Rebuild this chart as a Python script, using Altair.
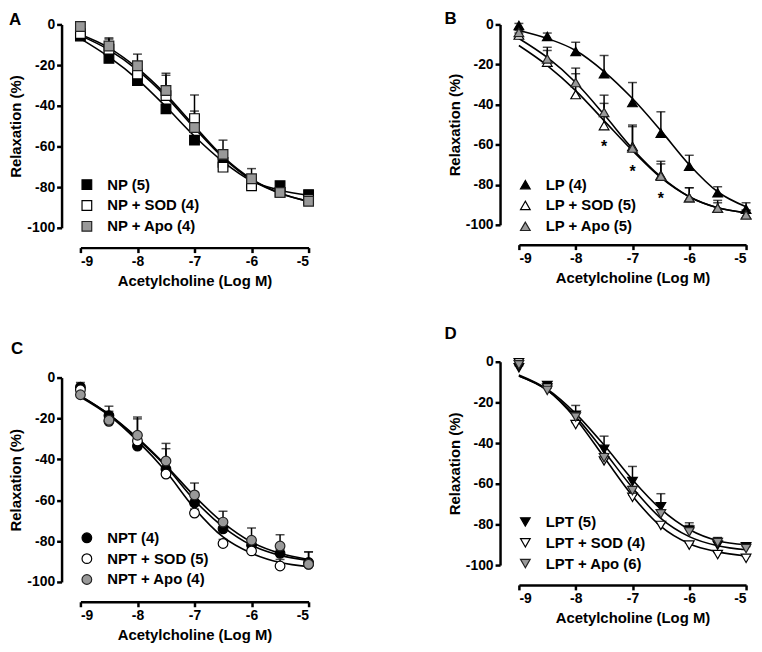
import altair as alt
import pandas as pd

FONT = "Liberation Sans"

# x positions (log M acetylcholine)
log_ach = [-9, -8.5, -8, -7.5, -7, -6.5, -6, -5.5, -5]

# ---------------- Panel A ----------------
a_names = ["NP (5)", "NP + SOD (4)", "NP + Apo (4)"]
a_mean_np = [-5.7, -16.7, -27.6, -41.5, -56.9, -67.8, -78.0, -79.3, -83.7]
a_sem_np = [1, 1.5, 1.5, 1.5, 1.5, 1.5, 1.5, 1.5, 2.0]
a_mean_sod = [-4.5, -12.2, -24.4, -35.0, -46.3, -70.2, -79.3, -82.6, -86.2]
a_sem_sod = [1, 5.0, 3.0, 10.0, 3.7, 2.0, 2.0, 1.0, 1.0]
a_mean_apo = [-1.0, -10.6, -20.3, -32.5, -50.7, -63.9, -75.9, -82.6, -87.0]
a_sem_apo = [1, 4.0, 5.7, 8.5, 16.0, 7.0, 5.0, 1.0, 1.0]
a_fit_np = [-7, -16, -27, -40.5, -55, -67.5, -77, -81.5, -84]
a_fit_sod = [-5.5, -12.5, -22.5, -35.5, -51, -65.5, -76.5, -83, -87]
a_fit_apo = [-5, -11.5, -21.5, -34.5, -50, -65, -76, -83, -87]

# ---------------- Panel B ----------------
b_names = ["LP (4)", "LP + SOD (5)", "LP + Apo (5)"]
b_mean_lp = [-0.5, -6.0, -13.5, -24.6, -39.0, -54.3, -70.8, -84.0, -92.2]
b_sem_lp = [1, 1.7, 4.6, 9.1, 10.0, 10.7, 5.5, 3.0, 3.2]
b_mean_sod = [-5.3, -18.8, -35.0, -50.5, -60.9, -75.2, -86.5, -91.7, -95.0]
b_sem_sod = [1, 5.8, 10.4, 11.1, 10.7, 5.6, 5.0, 3.9, 2.3]
b_mean_apo = [-4.0, -17.2, -29.0, -43.9, -61.7, -75.7, -86.5, -91.7, -95.0]
b_sem_apo = [1, 5.8, 7.2, 8.6, 10.7, 7.4, 5.0, 2.7, 2.3]
b_fit_lp = [-3, -7, -13, -23.5, -37, -53, -70, -83.5, -91]
b_fit_sod = [-10.5, -20.5, -33, -48, -63, -76.5, -86, -91.5, -94]
b_fit_apo = [-7, -16.5, -29, -45, -62, -76, -86, -91.5, -94]
b_star_x = [-7.5, -7.0, -6.5]
b_star_y = [-59, -71.5, -85]

# ---------------- Panel C ----------------
c_names = ["NPT (4)", "NPT + SOD (5)", "NPT + Apo (4)"]
c_mean_npt = [-4.7, -18.6, -33.5, -44.8, -61.3, -74.0, -82.0, -86.0, -90.5]
c_sem_npt = [2.3, 4.6, 13.3, 10.0, 3.0, 3.0, 3.0, 2.0, 5.2]
c_mean_sod = [-6.0, -21.4, -31.0, -47.2, -66.3, -81.2, -84.8, -92.2, -91.4]
c_sem_sod = [1, 2, 2, 2, 2, 2, 2, 3.2, 1]
c_mean_apo = [-8.4, -20.9, -28.2, -40.8, -57.4, -70.7, -79.6, -82.4, -91.3]
c_sem_apo = [1, 4.4, 8.9, 8.6, 5.8, 5.3, 6.0, 5.5, 6.0]
c_fit_npt = [-9, -18, -30, -43.5, -60, -73, -82, -87, -89.5]
c_fit_sod = [-9.5, -18.5, -31, -46, -64, -78, -86, -90.5, -92.5]
c_fit_apo = [-9, -18, -29.5, -43, -58, -71, -80.5, -86, -89]

# ---------------- Panel D ----------------
d_names = ["LPT (5)", "LPT + SOD (4)", "LPT + Apo (6)"]
d_mean_lpt = [-3.0, -11.7, -26.3, -43.1, -58.9, -71.3, -82.9, -90.2, -91.0]
d_sem_lpt = [1, 1, 4.8, 6.5, 7.4, 6.4, 3.7, 3.7, 1]
d_mean_sod = [-0.5, -13.0, -30.9, -48.8, -66.7, -80.5, -90.2, -94.8, -96.7]
d_sem_sod = [1, 1, 1, 1, 1, 1, 1, 1, 1]
d_mean_apo = [-1.5, -14.1, -27.2, -47.2, -63.4, -74.8, -83.7, -88.9, -91.9]
d_sem_apo = [1, 1, 2, 2, 2, 2, 3.2, 2.4, 1]
d_fit_lpt = [-6.5, -13.5, -25.5, -41, -58, -72.5, -82.5, -88, -90]
d_fit_sod = [-7, -14, -28, -47, -66, -81, -89.5, -93.5, -95.5]
d_fit_apo = [-7, -14, -27, -44, -62, -77, -86, -90.5, -92.5]

x_ticks = [-9, -8, -7, -6, -5]
y_ticks = [0, -20, -40, -60, -80, -100]
fills = ["black", "white", "#999999"]
strokes = ["black", "black", "#222222"]


def xpos():
    return alt.X("x:Q", scale=alt.Scale(domain=[-9, -5], nice=False, zero=False),
                 axis=alt.Axis(values=x_ticks, title="Acetylcholine (Log M)", offset=20,
                               labelExpr="'' + datum.value"))


def ypos(field):
    return alt.Y(f"{field}:Q", scale=alt.Scale(domain=[-100, 0], nice=False, zero=False),
                 axis=alt.Axis(values=y_ticks, title="Relaxation (%)", offset=19,
                               labelExpr="'' + datum.value"))


def panel(letter, ldx, ldy, names, shape, means, sems, fits, width, height, stars=None):
    rows = []
    for name, m, s in zip(names, means, sems):
        for x, y, e in zip(log_ach, m, s):
            rows.append({"x": x, "y": y, "top": y + e, "series": name})
    pts = pd.DataFrame(rows)
    crv = pd.DataFrame([{"x": x, "y": y, "series": name}
                        for name, c in zip(names, fits) for x, y in zip(log_ach, c)])

    lines = alt.Chart(crv).mark_line(color="black", strokeWidth=1.6, interpolate="monotone").encode(
        x=xpos(), y=ypos("y"), detail="series:N")
    bars = alt.Chart(pts).mark_rule(color="black", strokeWidth=1.5).encode(
        x=xpos(), y=ypos("y"), y2="top:Q")
    caps = alt.Chart(pts).mark_tick(color="black", thickness=1.5, size=9, orient="horizontal").encode(
        x=xpos(), y=ypos("top"))
    leg = alt.Legend(title=None, orient="none", legendX=-1, legendY=154,
                     labelFont=FONT, labelFontSize=15, labelFontWeight="bold", labelColor="black",
                     labelOffset=13, symbolSize=95, symbolStrokeWidth=1.2,
                     rowPadding=5, padding=0, labelLimit=300)
    dots = alt.Chart(pts).mark_point(filled=True, size=95, strokeWidth=1.2, opacity=1).encode(
        x=xpos(), y=ypos("y"),
        shape=alt.Shape("series:N", scale=alt.Scale(domain=names, range=[shape] * 3), legend=leg),
        fill=alt.Fill("series:N", scale=alt.Scale(domain=names, range=fills), legend=leg),
        stroke=alt.Stroke("series:N", scale=alt.Scale(domain=names, range=strokes), legend=leg))
    lab = alt.Chart(pd.DataFrame({"t": [letter]})).mark_text(
        font=FONT, fontSize=17, fontWeight="bold", align="left", baseline="alphabetic", color="black"
    ).encode(text="t:N", x=alt.value(ldx), y=alt.value(ldy))
    layers = [lines, bars, caps, dots, lab]
    if stars is not None:
        sdf = pd.DataFrame({"x": stars[0], "y": stars[1], "t": ["*"] * len(stars[0])})
        layers.append(alt.Chart(sdf).mark_text(font=FONT, fontSize=16, fontWeight="bold",
                                               baseline="middle", dy=4, color="black").encode(
            x=xpos(), y=ypos("y"), text="t:N"))
    return alt.layer(*layers).properties(width=width, height=height)


A = panel("A", -72, 1, a_names, "square",
          [a_mean_np, a_mean_sod, a_mean_apo], [a_sem_np, a_sem_sod, a_sem_apo],
          [a_fit_np, a_fit_sod, a_fit_apo], 230, 205)
B = panel("B", -75, 0, b_names, "triangle-up",
          [b_mean_lp, b_mean_sod, b_mean_apo], [b_sem_lp, b_sem_sod, b_sem_apo],
          [b_fit_lp, b_fit_sod, b_fit_apo], 229, 202, stars=(b_star_x, b_star_y))
C = panel("C", -70, -24, c_names, "circle",
          [c_mean_npt, c_mean_sod, c_mean_apo], [c_sem_npt, c_sem_sod, c_sem_apo],
          [c_fit_npt, c_fit_sod, c_fit_apo], 230, 206)
D = panel("D", -75, -23, d_names, "triangle-down",
          [d_mean_lpt, d_mean_sod, d_mean_apo], [d_sem_lpt, d_sem_sod, d_sem_apo],
          [d_fit_lpt, d_fit_sod, d_fit_apo], 229, 205)


def indep(ch):
    return ch.resolve_scale(fill="independent", shape="independent", stroke="independent").resolve_legend(
        fill="independent", shape="independent", stroke="independent")


left = indep(alt.vconcat(A, C, spacing=151, bounds="flush"))
right = indep(alt.vconcat(B, D, spacing=138, bounds="flush"))
chart = indep(alt.hconcat(left, right, spacing=442, bounds="flush"))

chart = chart.properties(
    padding={"left": 0, "top": 0, "right": 0, "bottom": 0}
).configure_view(stroke=None).configure_axis(
    domainColor="black", domainWidth=2.5, tickColor="black", tickWidth=2.5, tickSize=5,
    labelFont=FONT, labelFontSize=14, labelFontWeight="bold", labelColor="black", labelPadding=2,
    titleFont=FONT, titleFontSize=15, titleFontWeight="bold", titleColor="black", grid=False
).configure_axisX(titlePadding=5).configure_axisY(titlePadding=3)

chart.save("out.html", embed_options={"renderer": "svg", "actions": False})
